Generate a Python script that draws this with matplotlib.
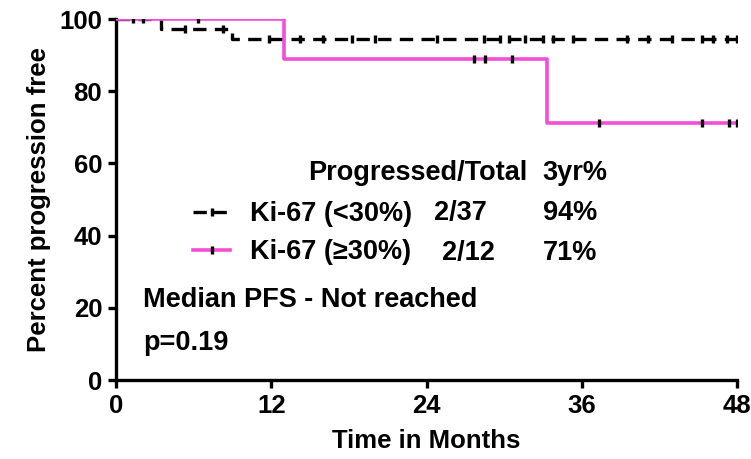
import numpy as np
import matplotlib
matplotlib.use('Agg')
import matplotlib.pyplot as plt
from matplotlib.lines import Line2D

plt.rcParams['font.family'] = ['Liberation Sans', 'DejaVu Sans']
plt.rcParams['font.weight'] = 'bold'

# --- Kaplan-Meier step data ---
low_times = [0, 3.5, 9.0]
low_levels = [100, 97.3, 94.6]
low_censor = [5.3, 8.3, 11.8, 14.2, 16.0, 18.2, 20.0, 24.8, 28.4, 29.7, 30.4,
              31.6, 33.0, 33.8, 35.3, 39.5, 41.1, 43.0, 45.3, 46.1, 47.2, 48.0]

high_times = [0, 13.0, 33.3]
high_levels = [100, 88.9, 71.1]
high_censor = [1.3, 2.1, 6.3, 27.7, 28.5, 30.6, 37.3, 45.3, 47.4, 48.0]

t_end = 48
pink = '#F24FD6'

x_ticks = [0, 12, 24, 36, 48]
y_ticks = [0, 20, 40, 60, 80, 100]

FS = 19.5


def level_at(times, levels, t):
    idx = np.searchsorted(times, t, side='right') - 1
    return np.array(levels)[idx]


fig = plt.figure(figsize=(7.51, 4.59), dpi=100)
ax = fig.add_axes([0.1545, 0.172, 0.827, 0.7865])

# Ki-67 < 30% : black dashed
ax.step(low_times + [t_end], low_levels + [low_levels[-1]], where='post',
        color='black', lw=2.4, dashes=(4, 2.5), zorder=3)
ax.plot(low_censor, level_at(low_times, low_levels, low_censor), ls='none',
        marker='|', ms=6, mew=2.4, color='black', zorder=4)

# Ki-67 >= 30% : pink solid
ax.step(high_times + [t_end], high_levels + [high_levels[-1]], where='post',
        color=pink, lw=2.6, zorder=3)
ax.plot(high_censor, level_at(high_times, high_levels, high_censor), ls='none',
        marker='|', ms=6, mew=2.4, color='black', zorder=4)

ax.set_xlim(0, 48)
ax.set_ylim(0, 100)
ax.set_xticks(x_ticks)
ax.set_yticks(y_ticks)
ax.spines['top'].set_visible(False)
ax.spines['right'].set_visible(False)
for s in ['left', 'bottom']:
    ax.spines[s].set_linewidth(2.4)
ax.tick_params(width=2.4, length=6, labelsize=18.5, pad=4)
ax.set_xlabel('Time in Months', fontsize=18.5, fontweight='bold', labelpad=8)
ax.set_ylabel('Percent progression free', fontsize=18.5, fontweight='bold', labelpad=6)
for lab in ax.get_xticklabels() + ax.get_yticklabels():
    lab.set_fontweight('bold')
for s in ax.spines.values():
    s.set_clip_on(False)

# --- legend table ---
handles = [
    Line2D([0, 0.5, 1], [0, 0, 0], color='black', lw=2.4, dashes=(4, 2),
           marker='|', ms=6, mew=2.4, markevery=[1]),
    Line2D([0, 0.5, 1], [0, 0, 0], color=pink, lw=2.6, marker='|', ms=6,
           mew=2.4, mec='black', markevery=[1]),
]
leg = ax.legend(handles, ['Ki-67 (<30%)', 'Ki-67 (\u226530%)'],
                loc='center left', bbox_to_anchor=(0.124, 0.407), frameon=False,
                borderaxespad=0, borderpad=0,
                handlelength=1.37, handletextpad=0.74, labelspacing=0.45,
                prop={'family': ['Liberation Sans', 'DejaVu Sans'],
                      'weight': 'bold', 'size': FS})

kw = dict(transform=ax.transAxes, fontsize=FS, fontweight='bold', va='center')
ax.text(0.662, 0.573, 'Progressed/Total', ha='right', **kw)
ax.text(0.686, 0.573, '3yr%', ha='left', **kw)
ax.text(0.512, 0.463, '2/37', ha='left', **kw)
ax.text(0.525, 0.352, '2/12', ha='left', **kw)
ax.text(0.688, 0.463, '94%', ha='left', **kw)
ax.text(0.688, 0.352, '71%', ha='left', **kw)
ax.text(0.0435, 0.222, 'Median PFS - Not reached', ha='left', **kw)
ax.text(0.0435, 0.102, 'p=0.19', ha='left', **kw)

fig.savefig('out.png', dpi=100)
